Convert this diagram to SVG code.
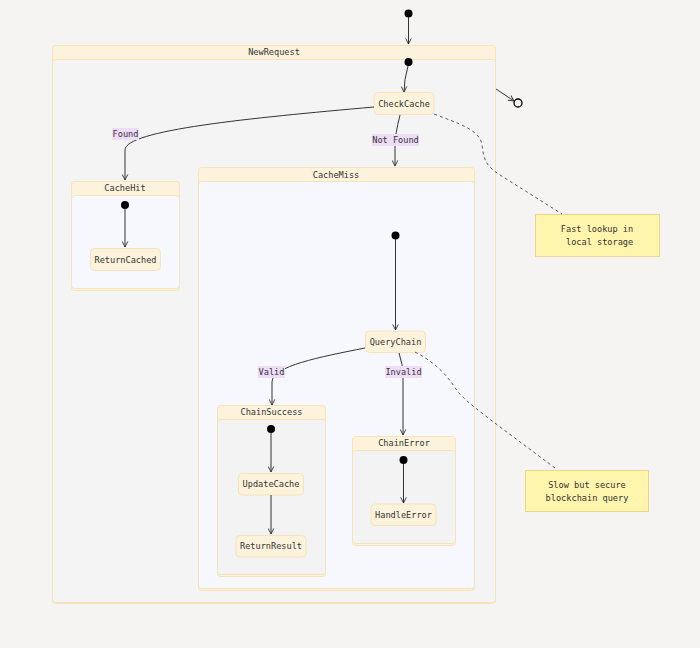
<svg xmlns="http://www.w3.org/2000/svg" width="700" height="648" viewBox="0 0 700 648">
<style>
text{font-family:"DejaVu Sans Mono","Liberation Mono",monospace;font-size:8.6px;fill:#333;text-anchor:middle;dominant-baseline:central}
.title{fill:#fdf3dc;stroke:#f5e4bb;stroke-width:1}
.body{stroke:#f5e4bb;stroke-width:1}
.node{fill:#fdf3dc;stroke:#f5e4bb;stroke-width:1}
.edge{fill:none;stroke:#333;stroke-width:1;marker-end:url(#arr)}
.note{fill:none;stroke:#333;stroke-width:0.8;stroke-dasharray:3,3}
.lbl{fill:#efdcf7}
.start{fill:#000}
.notebox{fill:#fff5ad;stroke:#e8d88a;stroke-width:1}
</style>
<defs>
<marker id="arr" viewBox="0 0 10 10" refX="9" refY="5" markerWidth="7" markerHeight="7" orient="auto" markerUnits="userSpaceOnUse">
<path d="M1,1 L9,5 L1,9" fill="none" stroke="#333" stroke-width="1.3"/>
</marker>
</defs>
<rect width="700" height="648" fill="#f5f4f2"/>

<g id="NewRequest">
<rect class="title" x="52.5" y="45.5" width="443" height="558" rx="3"/>
<rect class="body" x="52.5" y="59.5" width="443" height="543" rx="3" fill="#f4f4f4"/>
<text x="274" y="52">NewRequest</text>
</g>
<g id="start0"><circle class="start" cx="408.5" cy="13.5" r="4"/></g>
<g id="start1"><circle class="start" cx="408.5" cy="62" r="4"/></g>
<g id="end"><circle cx="518" cy="103" r="4" fill="#f5f4f2" stroke="#000" stroke-width="1.3"/></g>

<g id="CheckCache">
<rect class="node" x="374" y="92.5" width="60" height="22" rx="4"/>
<text x="404" y="103.5">CheckCache</text>
</g>

<g id="CacheHit">
<rect class="title" x="71.5" y="181.5" width="108" height="109" rx="3"/>
<rect class="body" x="71.5" y="195.5" width="108" height="93" rx="3" fill="#f7f8fd"/>
<text x="125" y="188">CacheHit</text>
</g>
<g id="start2"><circle class="start" cx="125" cy="205" r="4"/></g>
<g id="ReturnCached">
<rect class="node" x="90.5" y="248.5" width="70" height="22" rx="4"/>
<text x="125.5" y="259.5">ReturnCached</text>
</g>

<g id="CacheMiss">
<rect class="title" x="198.5" y="167.5" width="276" height="423" rx="3"/>
<rect class="body" x="198.5" y="181.5" width="276" height="407" rx="3" fill="#f7f8fd"/>
<text x="336" y="175">CacheMiss</text>
</g>
<g id="start3"><circle class="start" cx="395.5" cy="235.5" r="4"/></g>
<g id="QueryChain">
<rect class="node" x="365.5" y="331" width="60" height="21.5" rx="4"/>
<text x="395.5" y="341.5">QueryChain</text>
</g>

<g id="ChainSuccess">
<rect class="title" x="217.5" y="405.5" width="108" height="171" rx="3"/>
<rect class="body" x="217.5" y="419.5" width="108" height="155" rx="3" fill="#f3f3f3"/>
<text x="271.5" y="412">ChainSuccess</text>
</g>
<g id="start4"><circle class="start" cx="271" cy="429" r="4"/></g>
<g id="UpdateCache">
<rect class="node" x="238.5" y="473.5" width="65" height="21.5" rx="4"/>
<text x="271" y="484">UpdateCache</text>
</g>
<g id="ReturnResult">
<rect class="node" x="236" y="535.5" width="70" height="21.5" rx="4"/>
<text x="271" y="546">ReturnResult</text>
</g>

<g id="ChainError">
<rect class="title" x="352.5" y="436.5" width="103" height="109" rx="3"/>
<rect class="body" x="352.5" y="450.5" width="103" height="93" rx="3" fill="#f3f3f3"/>
<text x="404" y="443">ChainError</text>
</g>
<g id="start5"><circle class="start" cx="403.5" cy="460" r="4"/></g>
<g id="HandleError">
<rect class="node" x="371" y="504" width="65" height="21.5" rx="4"/>
<text x="403.5" y="515">HandleError</text>
</g>

<g id="note1">
<rect class="notebox" x="535.5" y="214.5" width="124" height="42"/>
<text x="597" y="229" xml:space="preserve">Fast lookup in</text>
<text x="597" y="242" xml:space="preserve"> local storage</text>
</g>
<g id="note2">
<rect class="notebox" x="525.5" y="470.5" width="123" height="41"/>
<text x="587" y="484.5">Slow but secure</text>
<text x="587" y="497.5">blockchain query</text>
</g>

<g id="connectors">
<path class="edge" d="M408.5,17 L408.5,44"/>
<path class="edge" d="M408,66 Q404,80 404,92"/>
<path class="edge" d="M496,89 L514,101"/>
<path class="edge" d="M374,107 C250,118 125,130 125,150 L125,180"/>
<path class="edge" d="M400,115 Q395,135 395,145 L395,166"/>
<path class="edge" d="M125,209 L125,247"/>
<path class="edge" d="M395.5,239 L395.5,330"/>
<path class="edge" d="M365,348 C320,357 272,366 272,382 L272,405"/>
<path class="edge" d="M399,353 Q403,365 403,375 L403,435"/>
<path class="edge" d="M271,433 L271,472"/>
<path class="edge" d="M271,495 L271,534"/>
<path class="edge" d="M403.5,464 L403.5,503"/>
<path class="note" d="M434,114 C460,124 480,130 482,145 C484,160 485,165 500,175 L562,214"/>
<path class="note" d="M415,352 C440,365 450,380 458,392 C470,405 480,412 555,468"/>
<rect class="lbl" x="112" y="128" width="27" height="12"/>
<text x="125.5" y="134">Found</text>
<rect class="lbl" x="372" y="134" width="47" height="12"/>
<text x="395.5" y="140">Not Found</text>
<rect class="lbl" x="258" y="366" width="27" height="12"/>
<text x="271.5" y="372">Valid</text>
<rect class="lbl" x="385" y="366" width="37" height="12"/>
<text x="403.5" y="372">Invalid</text>
</g>
</svg>
